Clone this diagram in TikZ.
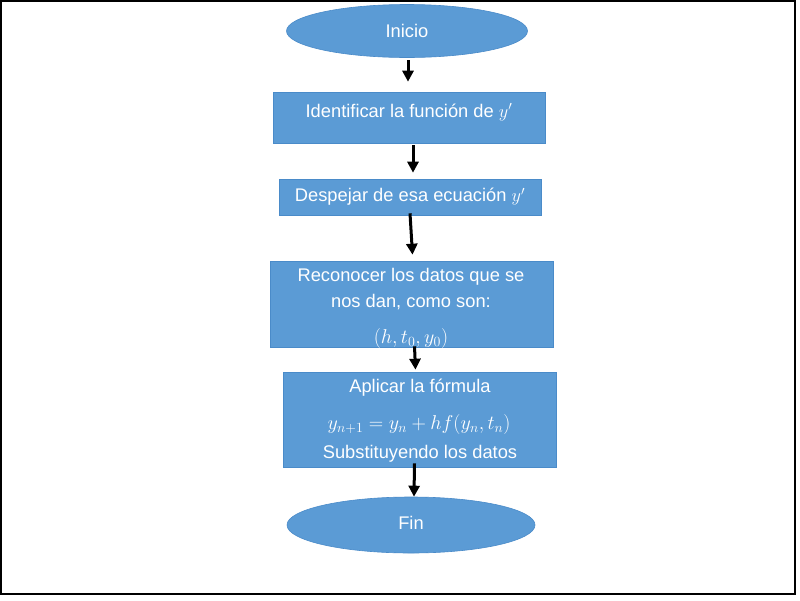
\RequirePackage{fix-cm}
\documentclass[tikz,border=0pt]{standalone}
\usepackage{fontspec}
\setmainfont{Liberation Sans}
\usetikzlibrary{shapes.geometric,arrows.meta}
\definecolor{boxblue}{HTML}{5B9BD5}
\definecolor{boxedge}{HTML}{4A8BC9}
\tikzset{
  blk/.style={rectangle, fill=boxblue, draw=boxedge, line width=0.6pt, inner sep=0pt},
  oval/.style={ellipse, fill=boxblue, draw=boxedge, line width=0.6pt, inner sep=0pt},
  txt/.style={text=white, font=\fontsize{18.3pt}{21pt}\selectfont, inner sep=0pt, anchor=center},
  mtxt/.style={txt, font=\fontsize{20pt}{23pt}\selectfont},
  arr/.style={draw=black, line width=3pt, -{Triangle[length=11pt,width=11pt]}}
}
\begin{document}
\begin{tikzpicture}[x=1pt,y=-1pt]
\useasboundingbox (0,0) rectangle (800,600);
\fill[white] (0,0) rectangle (800,600);
\draw[line width=2pt] (1,1) rectangle (795,594);

% shapes
\node[oval, minimum width=241pt, minimum height=53pt] (ini) at (407,31) {};
\node[blk, minimum width=272pt, minimum height=51pt] (b1) at (409,117.5) {};
\node[blk, minimum width=262pt, minimum height=36pt] (b2) at (410,197) {};
\node[blk, minimum width=283pt, minimum height=86pt] (b3) at (411.5,304) {};
\node[blk, minimum width=273pt, minimum height=95pt] (b4) at (419.5,419.5) {};
\node[oval, minimum width=248pt, minimum height=56pt] (fin) at (411,525) {};

% texts
\node[txt] (tini) at (407,31) {Inicio};
\node[txt] (t1) at (409,112) {Identificar la función de $y'$};
\node[txt] (t2) at (410,197) {Despejar de esa ecuación $y'$};
\node[txt] (t3a) at (411,277) {Reconocer los datos que se};
\node[txt] (t3b) at (411,302) {nos dan, como son:};
\node[mtxt] (t3c) at (411,338) {$(h,t_0,y_0)$};
\node[txt] (t4a) at (420,388) {Aplicar la fórmula};
\node[mtxt] (t4b) at (419,424) {$y_{n+1}=y_n+hf(y_n,t_n)$};
\node[txt] (t4c) at (420,454) {Substituyendo los datos};
\node[txt] (tfin) at (411,523) {Fin};

% connectors
\draw[arr] ([xshift=1pt,yshift=-2.5pt]ini.south) -- ([xshift=-1pt,yshift=10pt]b1.north);
\draw[arr] ([xshift=4pt,yshift=-2pt]b1.south) -- ([xshift=3pt,yshift=6pt]b2.north);
\draw[arr] ([xshift=0pt,yshift=2pt]b2.south) -- ([xshift=1pt,yshift=6pt]b3.north);
\draw[arr] ([xshift=3pt,yshift=1pt]b3.south) -- ([xshift=-4pt,yshift=2pt]b4.north);
\draw[arr] ([xshift=-5pt,yshift=4pt]b4.south) -- ([xshift=3pt,yshift=0pt]fin.north);
\end{tikzpicture}
\end{document}
